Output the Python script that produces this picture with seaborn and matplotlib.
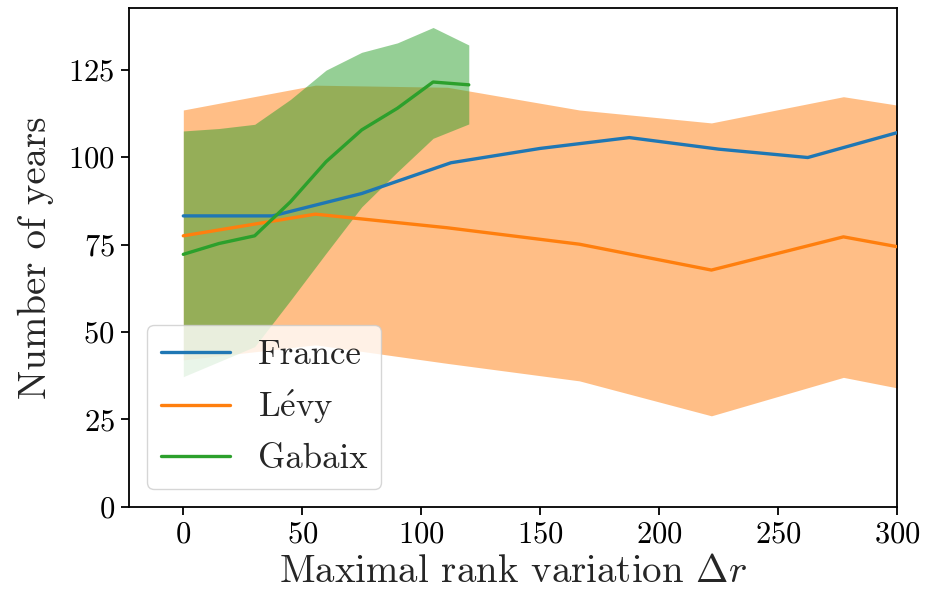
import numpy as np
import pandas as pd
import matplotlib
matplotlib.use("Agg")
import matplotlib.pyplot as plt
import seaborn as sns

# France: empirical duration of a given rank variation
france_x = [0, 37.5, 75, 112.5, 150, 187.5, 225, 262.5, 300]
france_y = [83.2, 83.2, 89.6, 98.4, 102.5, 105.6, 102.3, 99.9, 107.0]

# Lévy model: mean with spread band
levy_x = [0, 55.5, 111, 166.5, 222, 277.5, 333]
levy_y = [77.5, 83.7, 79.8, 75.1, 67.7, 77.2, 70.3]
levy_lo = [42.0, 46.3, 41.0, 36.0, 26.0, 37.0, 29.6]
levy_hi = [113.5, 120.6, 120.0, 113.5, 109.8, 117.3, 111.4]

# Gabaix model: mean with spread band
gabaix_x = [0, 15, 30, 45, 60, 75, 90, 105, 120]
gabaix_y = [72.2, 75.3, 77.5, 87.2, 98.7, 107.8, 114.0, 121.5, 120.7]
gabaix_lo = [37.2, 41.5, 45.8, 59.0, 72.5, 85.8, 95.8, 105.4, 109.5]
gabaix_hi = [107.5, 108.2, 109.4, 116.5, 124.9, 130.0, 132.7, 137.1, 132.1]

series_names = ["France", r"L$\acute{\mathrm{e}}$vy", "Gabaix"]
x_ticks = [0, 50, 100, 150, 200, 250, 300]
y_ticks = [0, 25, 50, 75, 100, 125]

sns.set_style("ticks")
plt.rcParams.update({
    "font.family": ["cmr10", "DejaVu Serif"],
    "mathtext.fontset": "cm",
    "axes.formatter.use_mathtext": True,
    "axes.unicode_minus": False,
    "axes.edgecolor": "black",
    "axes.linewidth": 1.3,
    "xtick.major.size": 5.5,
    "ytick.major.size": 5.5,
    "xtick.major.width": 1.3,
    "ytick.major.width": 1.3,
    "xtick.color": "black",
    "ytick.color": "black",
})

frames = []
for name, xs, ys in zip(series_names,
                        [france_x, levy_x, gabaix_x],
                        [france_y, levy_y, gabaix_y]):
    frames.append(pd.DataFrame({"x": xs, "y": ys, "model": name}))
df = pd.concat(frames, ignore_index=True)

palette = dict(zip(series_names, sns.color_palette("tab10", 3)))

fig = plt.figure(figsize=(9.27, 6.04), dpi=100)
ax = fig.add_axes([0.1395, 0.1611, 0.8281, 0.8252])

ax.fill_between(levy_x, levy_lo, levy_hi, color=palette[series_names[1]],
                alpha=0.5, linewidth=0, zorder=1)
ax.fill_between(gabaix_x, gabaix_lo, gabaix_hi, color=palette[series_names[2]],
                alpha=0.5, linewidth=0, zorder=1)

sns.lineplot(data=df, x="x", y="y", hue="model", palette=palette,
             linewidth=2.4, ax=ax, sort=False, zorder=3)

ax.set_xlim(-22.7, 300)
ax.set_ylim(0, 142.6)
ax.set_xticks(x_ticks)
ax.set_yticks(y_ticks)
ax.tick_params(labelsize=22, pad=5)
for s in ax.spines.values():
    s.set_visible(True)

ax.set_xlabel(r"Maximal rank variation $\Delta r$", fontsize=28)
ax.set_ylabel("Number of years", fontsize=28, labelpad=10)

leg = ax.legend(loc="lower left", fontsize=25, frameon=True)
leg.set_title(None)

fig.savefig("out.png", dpi=100)
